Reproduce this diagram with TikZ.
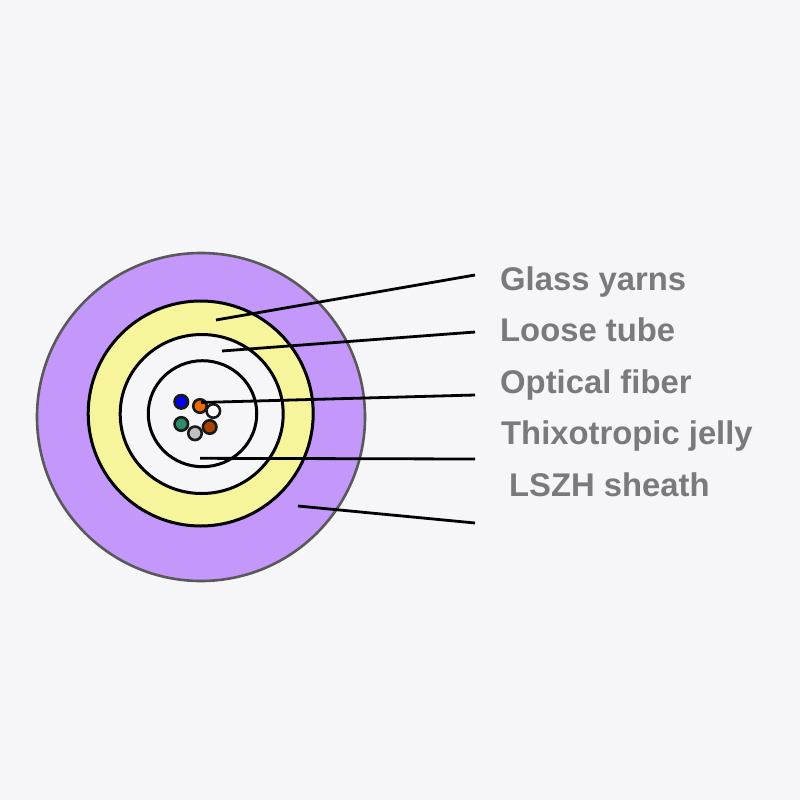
\documentclass[tikz,border=0pt]{standalone}
\usepackage{fontspec}
\usetikzlibrary{shapes.geometric}
\setmainfont{Liberation Sans}
\definecolor{bgc}{HTML}{F6F6F9}
\definecolor{sheathc}{HTML}{C497FA}
\definecolor{yarnc}{HTML}{F6F59C}
\definecolor{labelc}{HTML}{7A7A7E}
\definecolor{fblue}{HTML}{0000F0}
\definecolor{forange}{HTML}{F06800}
\definecolor{fbrown}{HTML}{A84300}
\definecolor{fgray}{HTML}{C0C0C0}
\definecolor{fgreen}{HTML}{2E8B6A}
\tikzset{
  ring/.style n args={2}{ellipse,draw=black,line width=3pt,inner sep=0pt,minimum width=#1,minimum height=#2},
  fibre/.style={circle,draw=black!90,line width=2.6pt,inner sep=0pt,minimum size=13.5pt,fill=#1},
  leader/.style={draw=black,line width=2.8pt},
  lab/.style={anchor=base west,inner sep=0pt,text=labelc,font=\fontsize{32.8}{36}\selectfont\bfseries},
}
\begin{document}
\begin{tikzpicture}[x=1pt,y=-1pt]
\useasboundingbox (0,0) rectangle (800,800);
\fill[bgc] (0,0) rectangle (800,800);
\node[circle,draw=black!65,line width=2.6pt,inner sep=0pt,minimum size=328pt,fill=sheathc] (sheath) at (201,417) {};
\node[ring={225pt}{225pt},fill=yarnc] (yarn) at (200.7,413.5) {};
\node[ring={163pt}{159pt},fill=bgc] (tube) at (201.7,414) {};
\node[ring={108.5pt}{106pt},fill=bgc] (jelly) at (202.5,413.7) {};
\node[fibre=fblue] (f1) at (181.3,401.8) {};
\node[fibre=forange] (f2) at (200,406) {};
\node[fibre=white] (f3) at (213.3,411) {};
\node[fibre=fbrown] (f4) at (209.7,427) {};
\node[fibre=fgray] (f5) at (195,433.3) {};
\node[fibre=fgreen] (f6) at (181.3,424) {};
\coordinate (a1) at (216,320);
\coordinate (b1) at (475,275);
\coordinate (a2) at (222,351);
\coordinate (b2) at (475,332);
\coordinate (a3) at (201,402.5);
\coordinate (b3) at (475,395);
\coordinate (a4) at (200,458.3);
\coordinate (b4) at (475,459);
\coordinate (a5) at (298,506);
\coordinate (b5) at (475,523);
\draw[leader] (a1) -- (b1);
\draw[leader] (a2) -- (b2);
\draw[leader] (a3) -- (b3);
\draw[leader] (a4) -- (b4);
\draw[leader] (a5) -- (b5);
\node[lab] (l1) at (500,290) {Glass yarns};
\node[lab] (l2) at (500,341.5) {Loose tube};
\node[lab] (l3) at (500,393) {Optical fiber};
\node[lab] (l4) at (501,444.5) {Thixotropic jelly};
\node[lab] (l5) at (509,496) {LSZH sheath};
\end{tikzpicture}
\end{document}
